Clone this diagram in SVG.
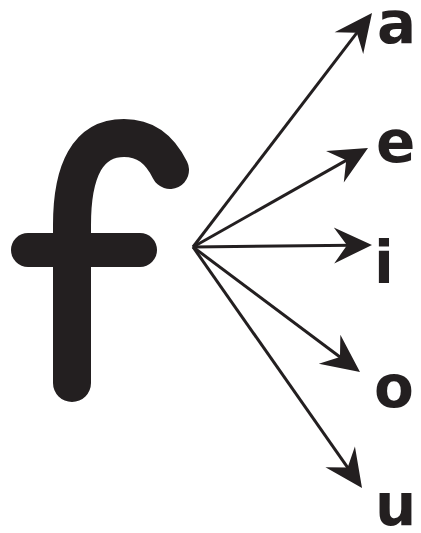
<svg xmlns="http://www.w3.org/2000/svg" width="421" height="533" viewBox="0 0 421 533">
  <style>
    .glyph { fill: none; stroke: #231f20; stroke-linecap: round; stroke-linejoin: round; }
    .conn { fill: none; stroke: #231f20; stroke-width: 3; marker-end: url(#head); }
    .lbl { font-family: "DejaVu Sans", "Liberation Sans", sans-serif; font-weight: bold; font-size: 58px; fill: #231f20; }
  </style>
  <defs>
    <marker id="head" markerUnits="userSpaceOnUse" viewBox="-20 -20 42 40" refX="0" refY="0" markerWidth="42" markerHeight="40" orient="auto" overflow="visible">
      <path d="M20,0 L-18,-18 L-5,0 L-18,18 Z" fill="#231f20"/>
    </marker>
  </defs>
  <rect width="421" height="533" fill="#ffffff"/>
  <g id="node-f">
    <path class="glyph" stroke-width="38" d="M72 383 L72 225 C72 170 88 138 124 138 C146 138 160 150 170 170"/>
    <path class="glyph" stroke-width="34" d="M28 250 L140 250"/>
  </g>
  <g id="connectors">
    <path class="conn" d="M193 247 L359.85 28.89"/>
    <path class="conn" d="M193 247 L350.59 157.85"/>
    <path class="conn" d="M193 247 L352 245.22"/>
    <path class="conn" d="M193 247 L343.99 360.02"/>
    <path class="conn" d="M193 247 L350.52 471.62"/>
  </g>
  <g id="node-a"><text class="lbl" x="377" y="43">a</text></g>
  <g id="node-e"><text class="lbl" x="376" y="162">e</text></g>
  <g id="node-i"><text class="lbl" x="374" y="283">i</text></g>
  <g id="node-o"><text class="lbl" x="374" y="407">o</text></g>
  <g id="node-u"><text class="lbl" x="375" y="525">u</text></g>
</svg>
